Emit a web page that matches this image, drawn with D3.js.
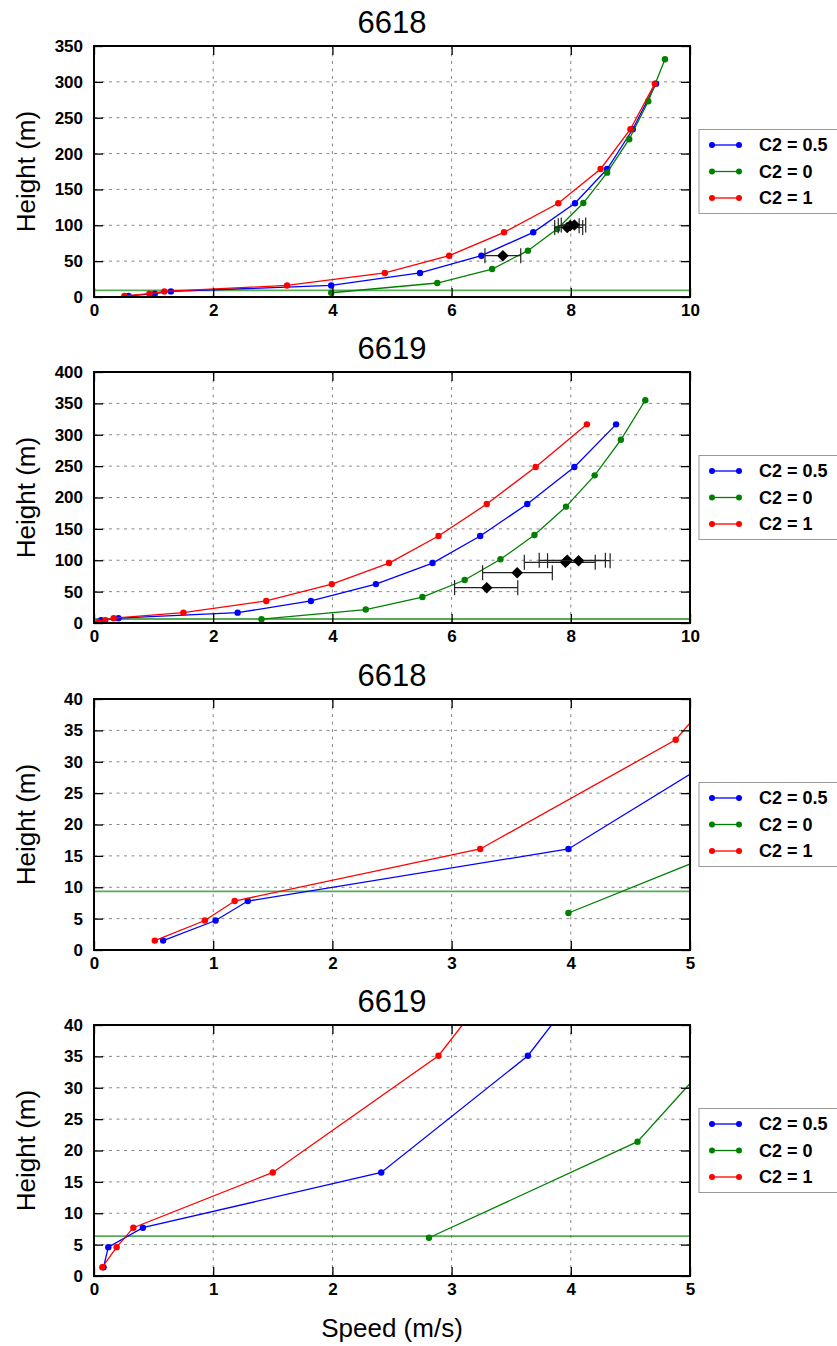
<!DOCTYPE html>
<html>
<head>
<meta charset="utf-8">
<script src="https://cdn.jsdelivr.net/npm/d3@7"></script>
<style>
  body { margin: 0; background: #fff; }
  svg { display: block; font-family: "Liberation Sans", Arial, sans-serif; }
  .tick text { font-weight: bold; font-size: 17px; fill: #000; }
</style>
</head>
<body>
<div id="chart"></div>
<script>
'use strict';

// labels
const legendLabels = ['C2 = 0.5', 'C2 = 0', 'C2 = 1'];
const titles = ['6618', '6619', '6618', '6619'];

// mast 6618
const height6618 = [1.5, 4.7, 7.8, 16.1, 33.5, 57.6, 90.2, 130.7, 178.5, 233.9, 297.5];
const speed6618c05 = [0.58, 1.02, 1.29, 3.98, 5.47, 6.50, 7.37, 8.07, 8.61, 9.04, 9.43];
const speed6618c1 = [0.51, 0.93, 1.18, 3.24, 4.88, 5.96, 6.88, 7.79, 8.50, 9.00, 9.41];
const height6618c0 = [5.9, 19.5, 39, 64.6, 94.8, 131, 173.4, 220, 273, 331.5];
const speed6618c0 = [3.98, 5.76, 6.68, 7.28, 7.77, 8.21, 8.61, 8.98, 9.30, 9.58];
const hub6618 = 9.35;
const obs6618 = [
  [6.86, 57.6, 6.56, 7.16],
  [7.94, 97.0, 7.73, 8.20],
  [7.99, 99.5, 7.79, 8.14],
  [8.06, 100.5, 7.84, 8.25],
];

// mast 6619
const height6619 = [1.4, 4.6, 7.7, 16.5, 35.1, 62, 95.5, 138.6, 189.6, 248.6, 316.6];
const speed6619c05 = [0.08, 0.12, 0.41, 2.41, 3.64, 4.73, 5.68, 6.48, 7.27, 8.06, 8.76];
const speed6619c1 = [0.07, 0.19, 0.33, 1.50, 2.89, 3.99, 4.95, 5.78, 6.59, 7.41, 8.27];
const height6619c0 = [6.1, 21.4, 41.4, 68.5, 101.5, 140.2, 185.4, 235.3, 292, 355];
const speed6619c0 = [2.81, 4.56, 5.51, 6.22, 6.82, 7.39, 7.92, 8.40, 8.84, 9.25];
const hub6619 = 6.37;
const obs6619 = [
  [6.59, 56.3, 6.05, 7.11],
  [7.10, 80.2, 6.52, 7.69],
  [7.91, 96.7, 7.22, 8.41],
  [7.94, 99.9, 7.47, 8.58],
  [8.13, 99.3, 7.61, 8.66],
];

// axis ranges per panel
const xMaxes = [10, 10, 5, 5];
const yMaxes = [350, 400, 40, 40];
const xSteps = [2, 2, 1, 1];
const ySteps = [50, 50, 5, 5];

function zip(xs, ys) {
  return xs.map((x, i) => [x, ys[i]]);
}

const mast6618 = {
  series: [zip(speed6618c05, height6618), zip(speed6618c0, height6618c0), zip(speed6618c1, height6618)],
  hub: hub6618,
  obs: obs6618,
};
const mast6619 = {
  series: [zip(speed6619c05, height6619), zip(speed6619c0, height6619c0), zip(speed6619c1, height6619)],
  hub: hub6619,
  obs: obs6619,
};
const masts = [mast6618, mast6619, mast6618, mast6619];

const colors = ['#0000ff', '#008000', '#ff0000'];

const width = 837;
const height = 1346;
const left = 94;
const right = 690;
const panelH = 251;
const tops = [46, 372, 699, 1025];

const svg = d3.select('#chart')
  .append('svg')
  .attr('width', width)
  .attr('height', height);

function drawPanel(i) {
  const top = tops[i];
  const bottom = top + panelH;
  const mast = masts[i];

  const x = d3.scaleLinear().domain([0, xMaxes[i]]).range([left, right]);
  const y = d3.scaleLinear().domain([0, yMaxes[i]]).range([bottom, top]);
  const xTicks = d3.range(0, xMaxes[i] + 0.001, xSteps[i]);
  const yTicks = d3.range(0, yMaxes[i] + 0.001, ySteps[i]);

  const g = svg.append('g');

  svg.append('clipPath')
    .attr('id', 'clip' + i)
    .append('rect')
    .attr('x', left)
    .attr('y', top)
    .attr('width', right - left)
    .attr('height', panelH);

  // grid
  g.selectAll('.vgrid')
    .data(xTicks.slice(1, -1))
    .enter()
    .append('line')
    .attr('x1', d => x(d)).attr('x2', d => x(d))
    .attr('y1', top).attr('y2', bottom)
    .attr('stroke', '#888')
    .attr('stroke-dasharray', '3,4.5');
  g.selectAll('.hgrid')
    .data(yTicks.slice(1, -1))
    .enter()
    .append('line')
    .attr('x1', left).attr('x2', right)
    .attr('y1', d => y(d)).attr('y2', d => y(d))
    .attr('stroke', '#888')
    .attr('stroke-dasharray', '3,4.5');

  const plot = g.append('g').attr('clip-path', `url(#clip${i})`);

  // hub height line
  plot.append('line')
    .attr('x1', left).attr('x2', right)
    .attr('y1', y(mast.hub)).attr('y2', y(mast.hub))
    .attr('stroke', '#1f8f1f')
    .attr('stroke-width', 1.8)
    .attr('opacity', 0.75);

  const line = d3.line().x(d => x(d[0])).y(d => y(d[1]));

  mast.series.forEach((s, k) => {
    plot.append('path')
      .attr('d', line(s))
      .attr('fill', 'none')
      .attr('stroke', colors[k])
      .attr('stroke-width', 1.3);
    plot.selectAll('.pt' + k)
      .data(s)
      .enter()
      .append('circle')
      .attr('cx', d => x(d[0]))
      .attr('cy', d => y(d[1]))
      .attr('r', 3.2)
      .attr('fill', colors[k]);
  });

  // measurements with error bars
  const obs = plot.selectAll('.obs')
    .data(mast.obs)
    .enter()
    .append('g');
  obs.append('line')
    .attr('x1', d => x(d[2])).attr('x2', d => x(d[3]))
    .attr('y1', d => y(d[1])).attr('y2', d => y(d[1]))
    .attr('stroke', '#222').attr('stroke-width', 1.2);
  [2, 3].forEach(j => {
    obs.append('line')
      .attr('x1', d => x(d[j])).attr('x2', d => x(d[j]))
      .attr('y1', d => y(d[1]) - 7.5).attr('y2', d => y(d[1]) + 7.5)
      .attr('stroke', '#222').attr('stroke-width', 1.2);
  });
  obs.append('path')
    .attr('d', d3.symbol().type(d3.symbolDiamond2).size(85))
    .attr('transform', d => `translate(${x(d[0])},${y(d[1])})`)
    .attr('fill', '#000');

  // axes, ticks inwards on every side
  const tick = 9;
  g.append('g')
    .attr('transform', `translate(0,${bottom})`)
    .call(d3.axisTop(x).tickValues(xTicks).tickSize(tick).tickFormat(''))
    .call(a => a.select('.domain').remove());
  g.append('g')
    .attr('transform', `translate(0,${bottom})`)
    .call(d3.axisBottom(x).tickValues(xTicks).tickSize(0).tickPadding(7).tickFormat(d3.format('d')))
    .call(a => a.select('.domain').remove());
  g.append('g')
    .attr('transform', `translate(0,${top})`)
    .call(d3.axisBottom(x).tickValues(xTicks).tickSize(tick).tickFormat(''))
    .call(a => a.select('.domain').remove());
  g.append('g')
    .attr('transform', `translate(${left},0)`)
    .call(d3.axisRight(y).tickValues(yTicks).tickSize(tick).tickFormat(''))
    .call(a => a.select('.domain').remove());
  g.append('g')
    .attr('transform', `translate(${left},0)`)
    .call(d3.axisLeft(y).tickValues(yTicks).tickSize(0).tickPadding(11).tickFormat(d3.format('d')))
    .call(a => a.select('.domain').remove());
  g.append('g')
    .attr('transform', `translate(${right},0)`)
    .call(d3.axisLeft(y).tickValues(yTicks).tickSize(tick).tickFormat(''))
    .call(a => a.select('.domain').remove());
  g.selectAll('.tick line').attr('stroke', '#000').attr('stroke-width', 1.3);

  g.append('rect')
    .attr('x', left).attr('y', top)
    .attr('width', right - left).attr('height', panelH)
    .attr('fill', 'none')
    .attr('stroke', '#000')
    .attr('stroke-width', 2);

  // title and y label
  g.append('text')
    .attr('x', (left + right) / 2)
    .attr('y', top - 13)
    .attr('text-anchor', 'middle')
    .attr('font-size', 31)
    .text(titles[i]);
  g.append('text')
    .attr('transform', `translate(35,${(top + bottom) / 2}) rotate(-90)`)
    .attr('text-anchor', 'middle')
    .attr('font-size', 26)
    .text('Height (m)');

  // legend
  const ly = (top + bottom) / 2;
  const leg = g.append('g');
  leg.append('rect')
    .attr('x', 699).attr('y', ly - 42)
    .attr('width', 160).attr('height', 84)
    .attr('fill', '#fff')
    .attr('stroke', '#999');
  legendLabels.forEach((lab, k) => {
    const yy = ly + (k - 1) * 26.5;
    leg.append('line')
      .attr('x1', 712).attr('x2', 739)
      .attr('y1', yy).attr('y2', yy)
      .attr('stroke', colors[k]).attr('stroke-width', 1.3);
    leg.selectAll('.ld' + k)
      .data([712, 739])
      .enter()
      .append('circle')
      .attr('cx', d => d).attr('cy', yy).attr('r', 3)
      .attr('fill', colors[k]);
    leg.append('text')
      .attr('x', 759).attr('y', yy)
      .attr('dy', '0.36em')
      .attr('font-size', 18)
      .attr('font-weight', 'bold')
      .text(lab);
  });
}

[0, 1, 2, 3].forEach(drawPanel);

svg.append('text')
  .attr('x', (left + right) / 2)
  .attr('y', 1337)
  .attr('text-anchor', 'middle')
  .attr('font-size', 26)
  .text('Speed (m/s)');
</script>
</body>
</html>
